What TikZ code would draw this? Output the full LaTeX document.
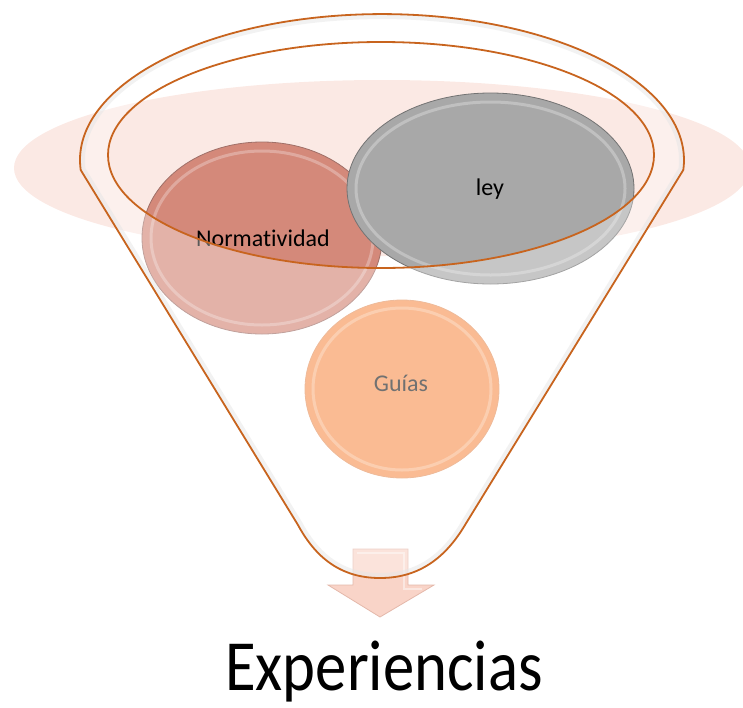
\documentclass[tikz,border=0pt]{standalone}
\usepackage{fontspec}
\setmainfont{Carlito}[Ligatures=NoCommon]
\definecolor{bandpink}{RGB}{251,233,228}
\definecolor{rimorange}{RGB}{200,100,30}
\definecolor{salmon}{RGB}{212,137,122}
\definecolor{salmonedge}{RGB}{160,112,104}
\definecolor{leygray}{RGB}{168,168,168}
\definecolor{leyedge}{RGB}{115,115,115}
\definecolor{guiaorange}{RGB}{248,152,90}
\definecolor{guiaedge}{RGB}{230,150,100}
\definecolor{arrowpink}{RGB}{249,212,200}
\definecolor{arrowedge}{RGB}{228,184,170}
\tikzset{
  bubble/.style={line width=0.8pt},
  bubbletext/.style={font=\fontsize{24}{28}\selectfont, inner sep=0pt},
  rim/.style={draw=rimorange, line width=1.8pt},
  shine/.style={draw=white, line width=3pt, opacity=0.28}
}
\def\funnelpath{(80.7,170) arc[start angle=183.9, end angle=-3.9, x radius=302pt, y radius=146pt]
  -- (465,525) .. controls (443,562) and (415,578) .. (380,578)
  .. controls (345,578) and (318,562) .. (298,525) -- cycle}
\begin{document}
\begin{tikzpicture}[x=1pt,y=-1pt]
\useasboundingbox (0,0) rectangle (743,707);
% background band
\fill[bandpink] (382,168) ellipse[x radius=368, y radius=88];
% arrow
\draw[fill=arrowpink, draw=arrowedge, line width=0.8pt, line join=miter]
  (353,549) -- (408,549) -- (408,585) -- (434,585) -- (380,617) -- (328,585) -- (353,585) -- cycle;
\draw[white, opacity=0.45, line width=1.5pt] (357,553) -- (404,553) -- (404,589) -- (422,589);
% bubbles
\fill[salmon] (262,238) ellipse[x radius=120, y radius=96];
\draw[shine] (262,238) ellipse[x radius=111, y radius=87];
\draw[bubble, draw=salmonedge] (262,238) ellipse[x radius=120, y radius=96];
\node[bubbletext, text=black] (norm) at (263,238) {Normatividad};

\fill[leygray] (490.5,188.5) ellipse[x radius=143.5, y radius=95.5];
\draw[shine] (490.5,188.5) ellipse[x radius=134.5, y radius=86.5];
\draw[bubble, draw=leyedge] (490.5,188.5) ellipse[x radius=143.5, y radius=95.5];
\node[bubbletext, text=black] (ley) at (490,189) {ley};

\fill[guiaorange] (402,389) ellipse[x radius=97, y radius=89];
\draw[shine] (402,389) ellipse[x radius=89, y radius=81];
\draw[bubble, draw=guiaedge] (402,389) ellipse[x radius=97, y radius=89];
\node[bubbletext, text=black!85] (guias) at (401,383) {Guías};
% glass overlay of funnel body
\begin{scope}
  \clip \funnelpath;
  \draw[black!15, opacity=0.5, line width=10pt] \funnelpath;
\end{scope}
\fill[white, opacity=0.35, even odd rule] \funnelpath (381,155) ellipse[x radius=273, y radius=113];
% rims
\draw[rim] \funnelpath;
\draw[rim] (381,155) ellipse[x radius=273, y radius=113];
% label
\node[anchor=base, inner sep=0pt] (exp) at (384,690)
  {\fontsize{72}{78}\selectfont\scalebox{0.87}[1]{Experiencias}};
\end{tikzpicture}
\end{document}
